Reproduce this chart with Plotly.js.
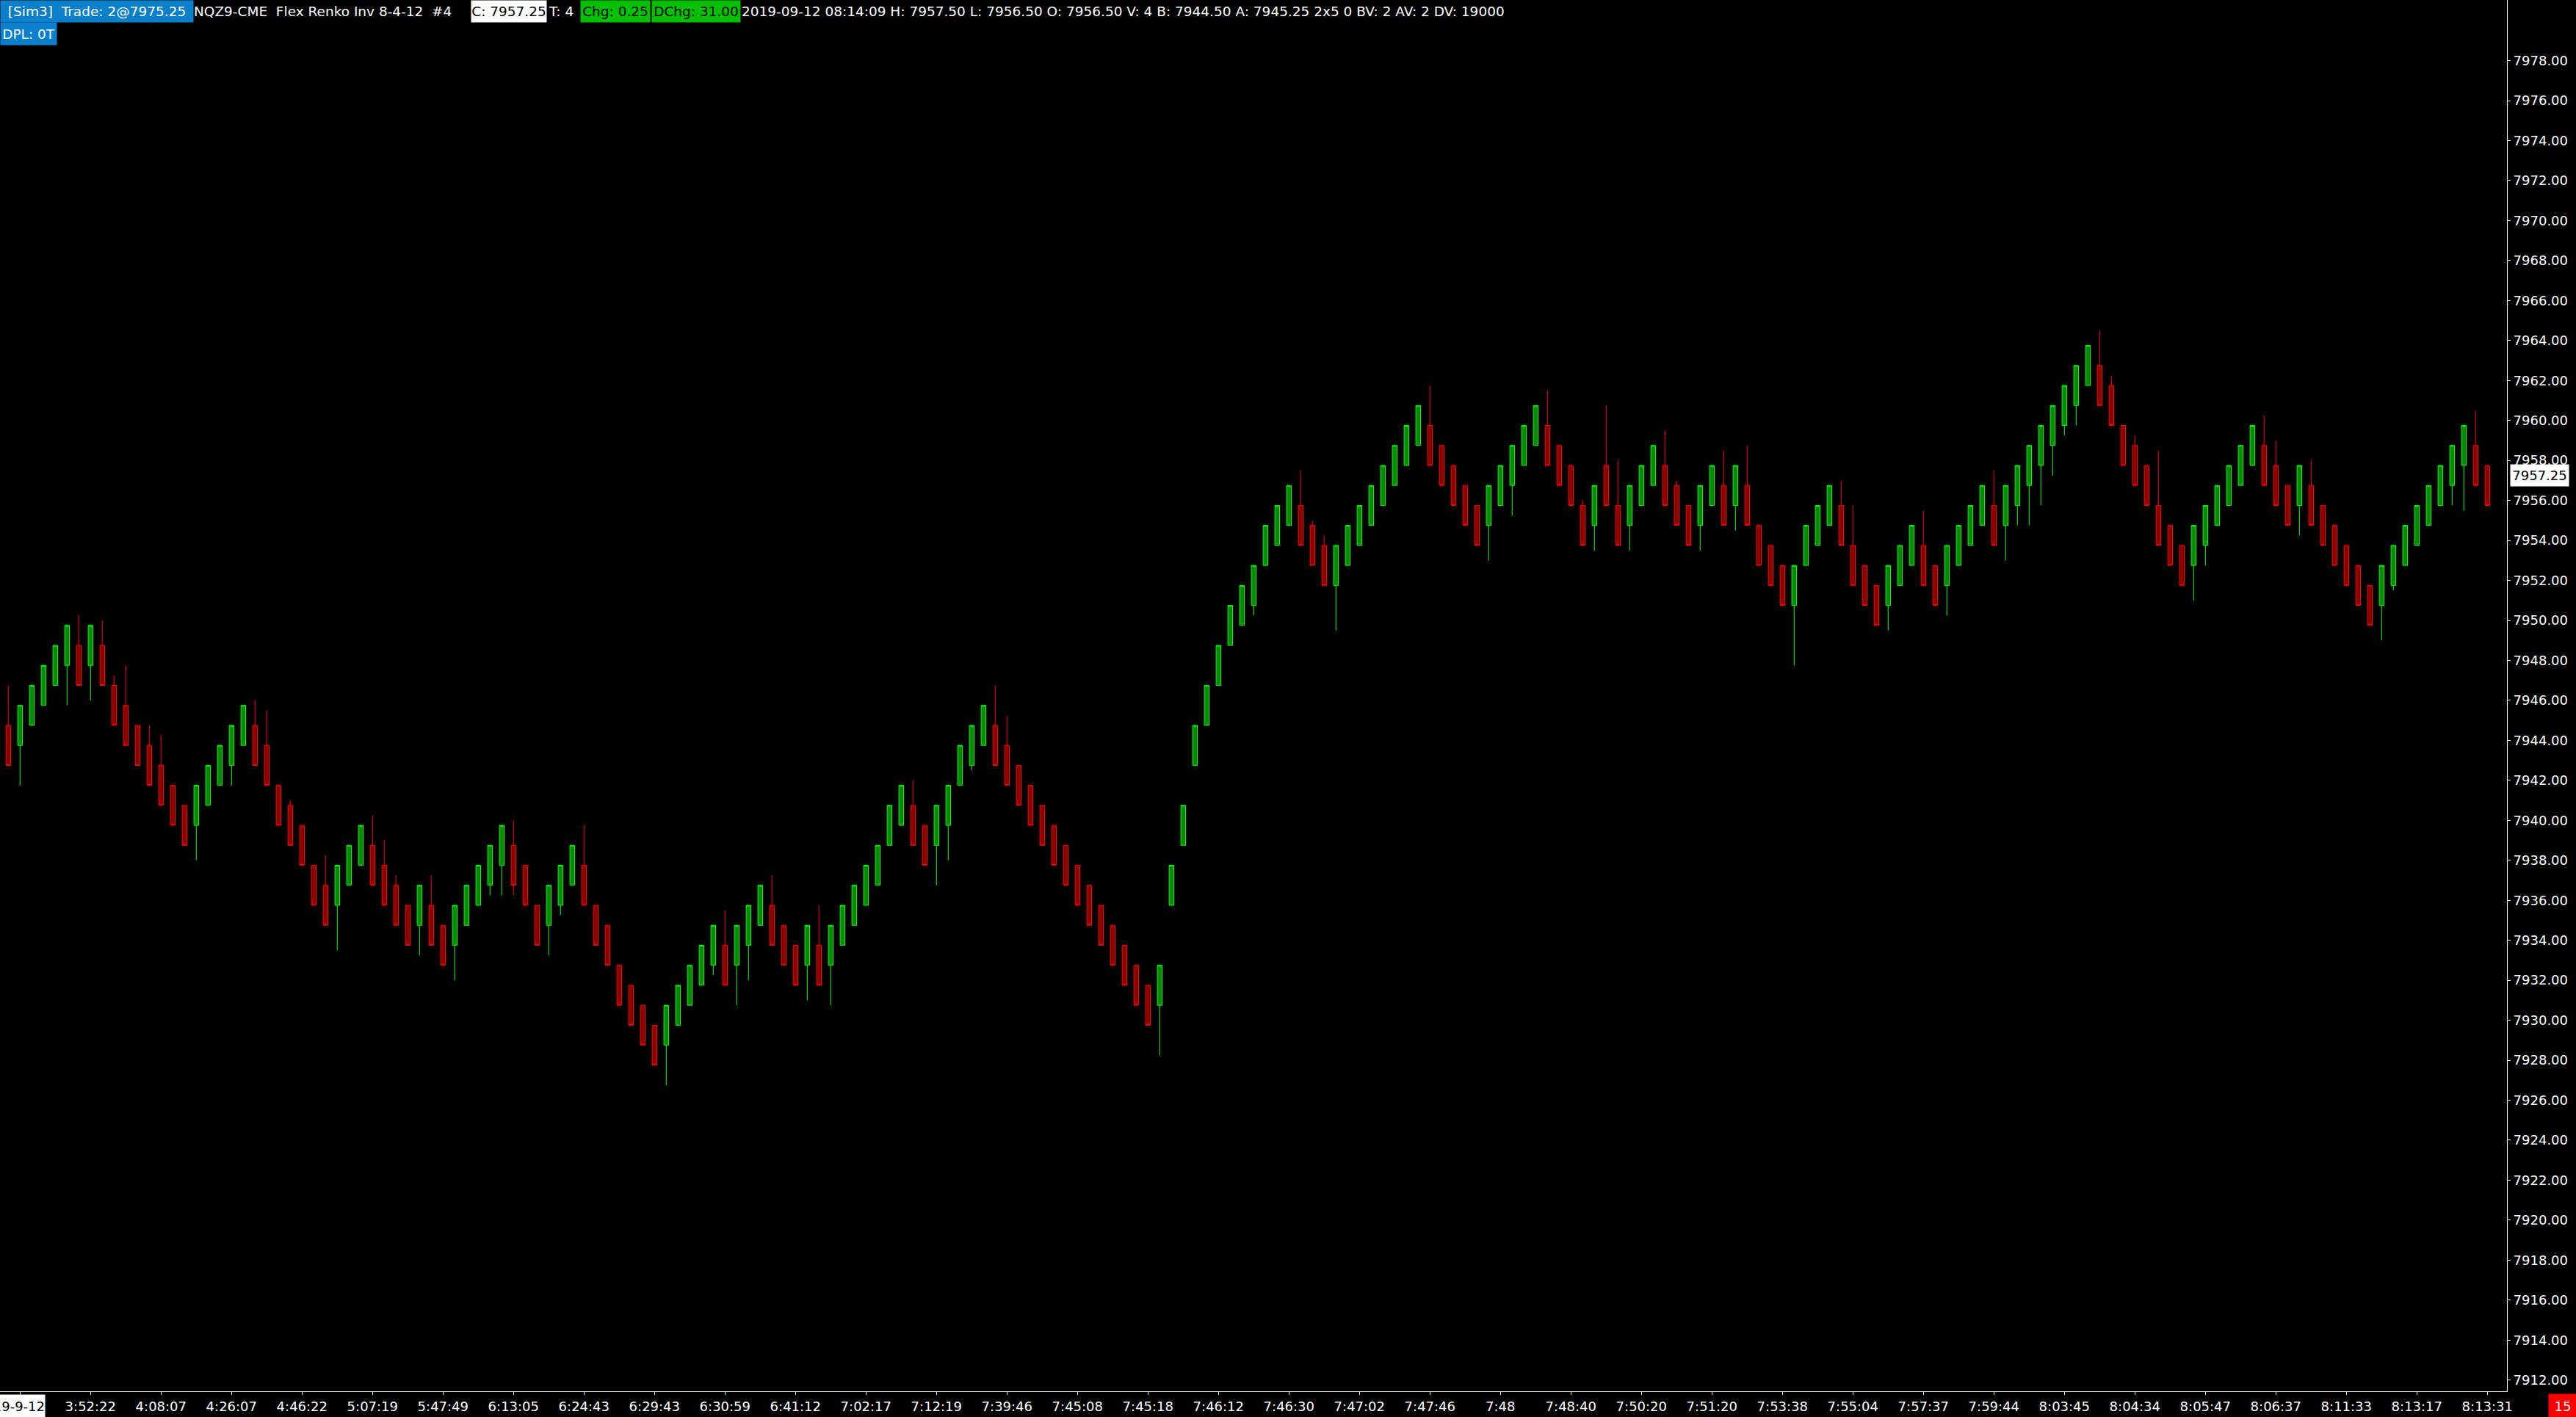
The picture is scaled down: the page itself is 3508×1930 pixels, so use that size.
<!DOCTYPE html>
<html>
<head>
<meta charset="utf-8">
<script src="https://cdn.plot.ly/plotly-3.0.1.min.js"></script>
<style>
html,body{margin:0;padding:0;background:#000;overflow:hidden}
#chart{width:3508px;height:1930px}
</style>
</head>
<body>
<div id="chart"></div>
<script>
// ---- Renko bricks (index order, left to right) ----
const opens = [
7944.75,7943.75,7944.75,7945.75,7946.75,7947.75,7948.75,7947.75,7948.75,7946.75,
7945.75,7944.75,7943.75,7942.75,7941.75,7940.75,7939.75,7940.75,7941.75,7942.75,
7943.75,7944.75,7943.75,7941.75,7940.75,7939.75,7937.75,7936.75,7935.75,7936.75,
7937.75,7938.75,7937.75,7936.75,7935.75,7934.75,7935.75,7934.75,7933.75,7934.75,
7935.75,7936.75,7937.75,7938.75,7937.75,7935.75,7934.75,7935.75,7936.75,7937.75,
7935.75,7934.75,7932.75,7931.75,7930.75,7929.75,7928.75,7929.75,7930.75,7931.75,
7932.75,7933.75,7932.75,7933.75,7934.75,7935.75,7934.75,7933.75,7932.75,7933.75,
7932.75,7933.75,7934.75,7935.75,7936.75,7938.75,7939.75,7940.75,7939.75,7938.75,
7939.75,7941.75,7942.75,7943.75,7944.75,7943.75,7942.75,7941.75,7940.75,7939.75,
7938.75,7937.75,7936.75,7935.75,7934.75,7933.75,7932.75,7931.75,7930.75,7935.75,
7938.75,7942.75,7944.75,7946.75,7948.75,7949.75,7950.75,7952.75,7953.75,7954.75,
7955.75,7954.75,7953.75,7951.75,7952.75,7953.75,7954.75,7955.75,7956.75,7957.75,
7958.75,7959.75,7958.75,7957.75,7956.75,7955.75,7954.75,7955.75,7956.75,7957.75,
7958.75,7959.75,7958.75,7957.75,7955.75,7954.75,7957.75,7955.75,7954.75,7955.75,
7956.75,7957.75,7956.75,7955.75,7954.75,7955.75,7956.75,7955.75,7956.75,7954.75,
7953.75,7952.75,7950.75,7952.75,7953.75,7954.75,7955.75,7953.75,7952.75,7951.75,
7950.75,7951.75,7952.75,7953.75,7952.75,7951.75,7952.75,7953.75,7954.75,7955.75,
7954.75,7955.75,7956.75,7957.75,7958.75,7959.75,7960.75,7961.75,7962.75,7961.75,
7959.75,7958.75,7957.75,7955.75,7954.75,7953.75,7952.75,7953.75,7954.75,7955.75,
7956.75,7957.75,7958.75,7957.75,7956.75,7955.75,7956.75,7955.75,7954.75,7953.75,
7952.75,7951.75,7950.75,7951.75,7952.75,7953.75,7954.75,7955.75,7956.75,7957.75,
7958.75,7957.75
];
const closes = [
7942.75,7945.75,7946.75,7947.75,7948.75,7949.75,7946.75,7949.75,7946.75,7944.75,
7943.75,7942.75,7941.75,7940.75,7939.75,7938.75,7941.75,7942.75,7943.75,7944.75,
7945.75,7942.75,7941.75,7939.75,7938.75,7937.75,7935.75,7934.75,7937.75,7938.75,
7939.75,7936.75,7935.75,7934.75,7933.75,7936.75,7933.75,7932.75,7935.75,7936.75,
7937.75,7938.75,7939.75,7936.75,7935.75,7933.75,7936.75,7937.75,7938.75,7935.75,
7933.75,7932.75,7930.75,7929.75,7928.75,7927.75,7930.75,7931.75,7932.75,7933.75,
7934.75,7931.75,7934.75,7935.75,7936.75,7933.75,7932.75,7931.75,7934.75,7931.75,
7934.75,7935.75,7936.75,7937.75,7938.75,7940.75,7941.75,7938.75,7937.75,7940.75,
7941.75,7943.75,7944.75,7945.75,7942.75,7941.75,7940.75,7939.75,7938.75,7937.75,
7936.75,7935.75,7934.75,7933.75,7932.75,7931.75,7930.75,7929.75,7932.75,7937.75,
7940.75,7944.75,7946.75,7948.75,7950.75,7951.75,7952.75,7954.75,7955.75,7956.75,
7953.75,7952.75,7951.75,7953.75,7954.75,7955.75,7956.75,7957.75,7958.75,7959.75,
7960.75,7957.75,7956.75,7955.75,7954.75,7953.75,7956.75,7957.75,7958.75,7959.75,
7960.75,7957.75,7956.75,7955.75,7953.75,7956.75,7955.75,7953.75,7956.75,7957.75,
7958.75,7955.75,7954.75,7953.75,7956.75,7957.75,7954.75,7957.75,7954.75,7952.75,
7951.75,7950.75,7952.75,7954.75,7955.75,7956.75,7953.75,7951.75,7950.75,7949.75,
7952.75,7953.75,7954.75,7951.75,7950.75,7953.75,7954.75,7955.75,7956.75,7953.75,
7956.75,7957.75,7958.75,7959.75,7960.75,7961.75,7962.75,7963.75,7960.75,7959.75,
7957.75,7956.75,7955.75,7953.75,7952.75,7951.75,7954.75,7955.75,7956.75,7957.75,
7958.75,7959.75,7956.75,7955.75,7954.75,7957.75,7954.75,7953.75,7952.75,7951.75,
7950.75,7949.75,7952.75,7953.75,7954.75,7955.75,7956.75,7957.75,7958.75,7959.75,
7956.75,7955.75
];
const highs = [
7946.75,7945.75,7946.75,7947.75,7948.75,7949.75,7950.25,7949.75,7950.00,7947.25,
7947.75,7944.75,7944.75,7944.25,7941.75,7940.75,7941.75,7942.75,7943.75,7944.75,
7945.75,7946.00,7945.50,7941.75,7941.00,7939.75,7937.75,7938.25,7937.75,7938.75,
7939.75,7940.25,7939.00,7937.25,7935.75,7936.75,7937.25,7934.75,7935.75,7936.75,
7937.75,7938.75,7939.75,7940.00,7937.75,7935.75,7936.75,7937.75,7938.75,7939.75,
7935.75,7934.75,7932.75,7931.75,7930.75,7929.75,7930.75,7931.75,7932.75,7933.75,
7934.75,7935.50,7934.75,7935.75,7936.75,7937.25,7934.75,7933.75,7934.75,7935.75,
7934.75,7935.75,7936.75,7937.75,7938.75,7940.75,7941.75,7942.00,7939.75,7940.75,
7941.75,7943.75,7944.75,7945.75,7946.75,7945.25,7942.75,7941.75,7940.75,7939.75,
7938.75,7937.75,7936.75,7935.75,7934.75,7933.75,7932.75,7931.75,7932.75,7937.75,
7940.75,7944.75,7946.75,7948.75,7950.75,7951.75,7952.75,7954.75,7955.75,7956.75,
7957.50,7955.00,7954.25,7953.75,7954.75,7955.75,7956.75,7957.75,7958.75,7959.75,
7960.75,7961.75,7958.75,7957.75,7956.75,7955.75,7956.75,7957.75,7958.75,7959.75,
7960.75,7961.50,7958.75,7957.75,7956.00,7956.75,7960.75,7958.00,7956.75,7957.75,
7958.75,7959.50,7957.00,7955.75,7956.75,7957.75,7958.50,7957.75,7958.75,7954.75,
7953.75,7952.75,7952.75,7954.75,7955.75,7956.75,7957.00,7955.75,7952.75,7951.75,
7952.75,7953.75,7954.75,7955.50,7952.75,7953.75,7954.75,7955.75,7956.75,7957.50,
7956.75,7957.75,7958.75,7959.75,7960.75,7961.75,7962.75,7963.75,7964.50,7962.25,
7959.75,7959.25,7957.75,7958.50,7954.75,7953.75,7954.75,7955.75,7956.75,7957.75,
7958.75,7959.75,7960.25,7959.00,7956.75,7957.75,7958.00,7955.75,7954.75,7953.75,
7952.75,7951.75,7952.75,7953.75,7954.75,7955.75,7956.75,7957.75,7958.75,7959.75,
7960.50,7957.75
];
const lows = [
7942.75,7941.75,7944.75,7945.75,7946.75,7945.75,7946.75,7946.00,7946.75,7944.75,
7943.75,7942.75,7941.75,7940.75,7939.75,7938.75,7938.00,7940.75,7941.75,7941.75,
7943.75,7942.75,7941.75,7939.75,7938.75,7937.75,7935.75,7934.75,7933.50,7936.75,
7937.75,7936.75,7935.75,7934.75,7933.75,7933.25,7933.75,7932.75,7932.00,7934.75,
7935.75,7936.25,7936.25,7936.25,7935.75,7933.75,7933.25,7935.25,7936.75,7935.75,
7933.75,7932.75,7930.75,7929.75,7928.75,7927.75,7926.75,7929.75,7930.75,7931.75,
7932.25,7931.75,7930.75,7932.00,7934.75,7933.75,7932.75,7931.75,7931.00,7931.75,
7930.75,7933.75,7934.75,7935.75,7936.75,7938.75,7939.75,7938.75,7937.75,7936.75,
7938.00,7941.75,7942.50,7943.75,7942.75,7941.75,7940.75,7939.75,7938.75,7937.75,
7936.75,7935.75,7934.75,7933.75,7932.75,7931.75,7930.75,7929.75,7928.25,7935.75,
7938.75,7942.75,7944.75,7946.75,7948.75,7949.75,7950.25,7952.75,7953.75,7954.75,
7953.75,7952.75,7951.75,7949.50,7952.75,7953.75,7954.75,7955.75,7956.75,7957.75,
7958.75,7957.75,7956.75,7955.75,7954.75,7953.75,7953.00,7955.75,7955.25,7957.75,
7958.75,7957.75,7956.75,7955.75,7953.75,7953.50,7955.75,7953.75,7953.50,7955.75,
7956.75,7955.75,7954.75,7953.75,7953.50,7955.75,7954.75,7954.50,7954.75,7952.75,
7951.75,7950.75,7947.75,7952.75,7953.75,7954.75,7953.75,7951.75,7950.75,7949.75,
7949.50,7951.75,7952.75,7951.75,7950.75,7950.25,7952.75,7953.75,7954.75,7953.75,
7953.00,7954.75,7954.75,7955.75,7957.25,7959.25,7959.75,7961.75,7960.75,7959.75,
7957.75,7956.75,7955.75,7953.75,7952.75,7951.75,7951.00,7952.75,7954.75,7955.75,
7956.75,7957.75,7956.75,7955.75,7954.75,7954.25,7954.75,7953.75,7952.75,7951.75,
7950.75,7949.75,7949.00,7951.50,7952.75,7953.75,7954.75,7955.75,7955.75,7955.50,
7956.75,7955.75
];
const barIndex = opens.map((_, i) => i);

// ---- Time axis labels (brick index -> label) ----
const timeTickIdx = [1,7,13,19,25,31,37,43,49,55,61,67,73,79,85,91,97,103,109,115,
  121,127,133,139,145,151,157,163,169,175,181,187,193,199,205,211];
const timeTickText = ['','3:52:22','4:08:07','4:26:07','4:46:22','5:07:19','5:47:49','6:13:05',
  '6:24:43','6:29:43','6:30:59','6:41:12','7:02:17','7:12:19','7:39:46','7:45:08','7:45:18',
  '7:46:12','7:46:30','7:47:02','7:47:46','7:48','7:48:40','7:50:20','7:51:20','7:53:38',
  '7:55:04','7:57:37','7:59:44','8:03:45','8:04:34','8:05:47','8:06:37','8:11:33','8:13:17','8:13:31'];
const dateLabel = '2019-9-12';
// ---- Price scale labels ----
const priceTicks = [7912,7914,7916,7918,7920,7922,7924,7926,7928,7930,7932,7934,7936,7938,
  7940,7942,7944,7946,7948,7950,7952,7954,7956,7958,7960,7962,7964,7966,7968,7970,7972,
  7974,7976,7978];
const lastPrice = 7957.25;
const lastPriceText = '7957.25';
const barTimer = '15';

// ---- Header texts ----
const headerTexts = [
  '[Sim3]\u00a0\u00a0Trade: 2@7975.25',
  'NQZ9-CME\u00a0\u00a0Flex Renko Inv 8-4-12\u00a0\u00a0#4',
  'C: 7957.25',
  'T: 4',
  'Chg: 0.25',
  'DChg: 31.00',
  '2019-09-12 08:14:09 H: 7957.50 L: 7956.50 O: 7956.50 V: 4 B: 7944.50 A: 7945.25 2x5 0 BV: 2 AV: 2 DV: 19000'
];
const dplText = 'DPL: 0T';

// ---- Layout geometry ----
const W = 3508, H = 1930;
const M = {l: 0, r: 94, t: 0, b: 35};
const PW = W - M.l - M.r, PH = H - M.t - M.b;
const px = v => v / PW;
const py = v => 1 - v / PH;
const FONT = 'DejaVu Sans';

const blue = '#0a80cc', green = '#00c000';
const hdr = [
  {x: 0,    w: 262,  bg: blue,    c: '#ffffff'},
  {x: 263,  w: 376,  bg: null,    c: '#ffffff'},
  {x: 641,  w: 102,  bg: '#ffffff', c: '#000000'},
  {x: 746,  w: 42,   bg: null,    c: '#ffffff'},
  {x: 790,  w: 94,   bg: green,   c: '#000000'},
  {x: 887,  w: 120,  bg: green,   c: '#000000'},
  {x: 1009, w: 1080, bg: null,    c: '#ffffff'}
];

const annotations = [];
headerTexts.forEach((t, k) => {
  const h = hdr[k];
  annotations.push({
    xref: 'paper', yref: 'paper', x: px(h.x), y: py(0), xanchor: 'left', yanchor: 'top',
    width: h.w, height: 29, align: (h.bg ? 'center' : 'left'), valign: 'middle',
    bgcolor: h.bg || 'rgba(0,0,0,0)', borderpad: 0, showarrow: false,
    text: t, font: {family: FONT, size: 18.5, color: h.c}
  });
});
annotations.push({
  xref: 'paper', yref: 'paper', x: px(0), y: py(30), xanchor: 'left', yanchor: 'top',
  width: 76, height: 30, align: 'center', valign: 'middle', bgcolor: blue, borderpad: 0,
  showarrow: false, text: dplText, font: {family: FONT, size: 18.5, color: '#ffffff'}
});
// last price marker on the price scale
annotations.push({
  xref: 'paper', yref: 'y', x: px(3418), y: lastPrice, xanchor: 'left', yanchor: 'middle',
  width: 79, height: 29, align: 'center', valign: 'middle', bgcolor: '#ffffff', borderpad: 0,
  showarrow: false, text: lastPriceText, font: {family: FONT, size: 18, color: '#000000'}
});
// bar timer box
annotations.push({
  xref: 'paper', yref: 'paper', x: px(3470), y: py(1898), xanchor: 'left', yanchor: 'top',
  width: 38, height: 32, align: 'center', valign: 'middle', bgcolor: '#ff0000', borderpad: 0,
  showarrow: false, text: barTimer, font: {family: FONT, size: 18, color: '#ffffff'}
});
// first (date) time label, clipped at the left edge as in the original
annotations.push({
  xref: 'paper', yref: 'paper', x: px(62), y: py(1899), xanchor: 'right', yanchor: 'top',
  width: 100, height: 31, align: 'right', valign: 'middle', bgcolor: '#ffffff', borderpad: 0,
  showarrow: false, text: dateLabel, font: {family: FONT, size: 18, color: '#000000'}
});

const trace = {
  type: 'candlestick',
  x: barIndex, open: opens, high: highs, low: lows, close: closes,
  increasing: {line: {color: '#00ff00', width: 1}, fillcolor: '#008a00'},
  decreasing: {line: {color: '#ff0000', width: 1}, fillcolor: '#8c0000'},
  whiskerwidth: 0,
  hoverinfo: 'skip',
  showlegend: false
};

// x range: brick i centred at 11.3 + 16*i px
const xMin = -11.3 / 16, xMax = (PW - 11.3) / 16;
// y range: 7960 at 572.7px, 27.23 px per point
const yTop = 7960 + 572.7 / 27.23, yBot = 7960 - (PH - 572.7) / 27.23;

const layout = {
  width: W, height: H,
  margin: M,
  paper_bgcolor: '#000000', plot_bgcolor: '#000000',
  showlegend: false,
  boxgap: 0.6, boxgroupgap: 0,
  xaxis: {
    range: [xMin, xMax], showgrid: false, zeroline: false,
    showline: true, linecolor: '#ffffff', linewidth: 1,
    ticks: 'outside', ticklen: 4, tickcolor: '#ffffff', tickwidth: 1,
    tickmode: 'array', tickvals: timeTickIdx, ticktext: timeTickText,
    tickfont: {family: FONT, size: 18, color: '#ffffff'},
    rangeslider: {visible: false}, fixedrange: true
  },
  yaxis: {
    side: 'right', range: [yBot, yTop], showgrid: false, zeroline: false,
    showline: true, linecolor: '#ffffff', linewidth: 1,
    ticks: 'outside', ticklen: 4, tickcolor: '#ffffff', tickwidth: 1,
    tickmode: 'array', tickvals: priceTicks, ticktext: priceTicks.map(v => v.toFixed(2)),
    tickfont: {family: FONT, size: 18, color: '#ffffff'}, fixedrange: true
  },
  annotations: annotations
};

Plotly.newPlot('chart', [trace], layout, {displayModeBar: false, staticPlot: true});
</script>
</body>
</html>
